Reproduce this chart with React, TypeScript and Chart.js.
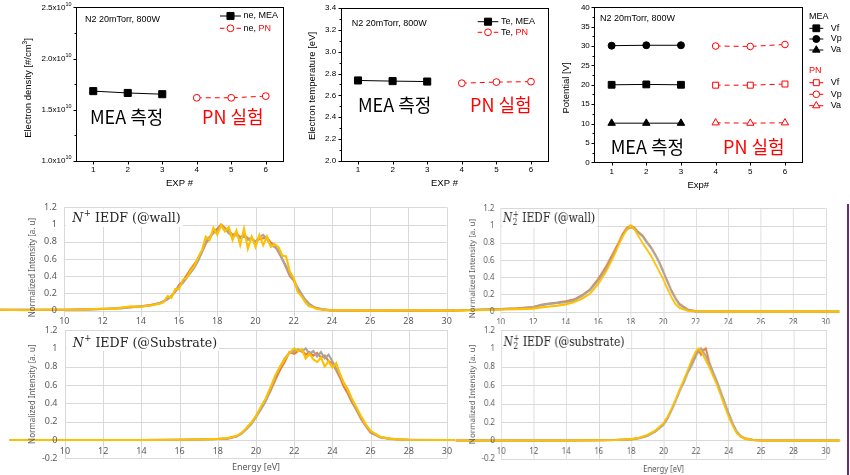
import React, { useEffect, useRef } from 'react';
import { Chart, registerables } from 'chart.js';

Chart.register(...registerables);

// ================= Top row data =================
const expTicks = [1, 2, 3, 4, 5, 6];
const expMEA = [1, 2, 3];
const expPN = [4, 5, 6];

const neMEA = [1.682e10, 1.664e10, 1.652e10];
const nePN = [1.617e10, 1.617e10, 1.633e10];
const neTicks = [1.0e10, 1.5e10, 2.0e10, 2.5e10];
const neMinor = [1.25e10, 1.75e10, 2.25e10];

const teMEA = [2.737, 2.731, 2.727];
const tePN = [2.712, 2.722, 2.726];
const teTicks = [2.0, 2.2, 2.4, 2.6, 2.8, 3.0, 3.2, 3.4];
const teMinor = [2.1, 2.3, 2.5, 2.7, 2.9, 3.1, 3.3];

const vfMEA = [20.0, 20.1, 20.0];
const vpMEA = [30.1, 30.2, 30.2];
const vaMEA = [10.1, 10.1, 10.1];
const vfPN = [19.9, 19.9, 20.2];
const vpPN = [30.0, 29.9, 30.4];
const vaPN = [10.2, 10.1, 10.2];
const potTicks = [0, 5, 10, 15, 20, 25, 30, 35, 40];
const potMinor = [2.5, 7.5, 12.5, 17.5, 22.5, 27.5, 32.5, 37.5];

// ================= Bottom row data (IEDF) =================
const energyTicks = [10, 12, 14, 16, 18, 20, 22, 24, 26, 28, 30];
const intensityTicks = [-0.2, 0, 0.2, 0.4, 0.6, 0.8, 1.0, 1.2];

// N+ IEDF @wall
const nWallE = [6.6, 8, 9, 10, 11, 12, 12.5, 13, 13.5, 14, 14.5, 15, 15.2, 15.4, 15.6, 15.8, 16, 16.2, 16.4, 16.6, 16.8, 17, 17.2, 17.4, 17.6, 17.8, 18, 18.2, 18.4, 18.6, 18.8, 19, 19.2, 19.4, 19.6, 19.8, 20, 20.2, 20.4, 20.6, 20.8, 21, 21.2, 21.4, 21.6, 21.8, 22, 22.2, 22.4, 22.6, 22.8, 23, 23.2, 23.5, 24, 25, 26, 28, 30, 30.4];
const nWallOrange = [0.01, 0.01, 0.01, 0.01, 0.015, 0.02, 0.025, 0.03, 0.04, 0.05, 0.065, 0.09, 0.11, 0.14, 0.17, 0.22, 0.3, 0.34, 0.41, 0.48, 0.54, 0.6, 0.68, 0.78, 0.84, 0.92, 0.95, 1.0, 0.96, 0.93, 0.88, 0.9, 0.85, 0.88, 0.84, 0.83, 0.8, 0.83, 0.84, 0.85, 0.79, 0.76, 0.68, 0.6, 0.5, 0.4, 0.35, 0.25, 0.18, 0.12, 0.08, 0.05, 0.03, 0.015, 0.003, 0, 0, 0, 0, 0];
const nWallGray = [0.01, 0.01, 0.01, 0.01, 0.01, 0.02, 0.025, 0.03, 0.04, 0.05, 0.06, 0.09, 0.11, 0.13, 0.17, 0.22, 0.28, 0.32, 0.38, 0.44, 0.5, 0.58, 0.68, 0.8, 0.86, 0.9, 0.93, 0.98, 0.95, 0.9, 0.86, 0.88, 0.84, 0.86, 0.82, 0.84, 0.8, 0.85, 0.88, 0.83, 0.76, 0.74, 0.7, 0.6, 0.52, 0.42, 0.36, 0.27, 0.2, 0.13, 0.08, 0.05, 0.03, 0.015, 0.003, 0, 0, 0, 0, 0];
const nWallYellow = [0.01, 0.005, 0.01, 0.01, 0.01, 0.025, 0.02, 0.035, 0.05, 0.045, 0.06, 0.08, 0.1, 0.17, 0.15, 0.25, 0.25, 0.36, 0.38, 0.46, 0.52, 0.62, 0.7, 0.86, 0.82, 0.96, 0.88, 0.99, 0.92, 0.97, 0.82, 0.93, 0.76, 0.95, 0.72, 0.86, 0.74, 0.88, 0.76, 0.86, 0.74, 0.77, 0.74, 0.64, 0.63, 0.45, 0.38, 0.22, 0.17, 0.1, 0.05, 0.04, 0.02, 0.01, 0.003, 0.003, 0, 0.003, 0, 0];

// N2+ IEDF @wall
const n2WallE = [7.05, 8, 9, 10, 11, 12, 12.5, 13, 13.5, 14, 14.5, 15, 15.5, 16, 16.5, 17, 17.25, 17.5, 17.75, 18, 18.25, 18.5, 18.75, 19, 19.25, 19.5, 19.75, 20, 20.25, 20.5, 20.75, 21, 21.5, 22, 23, 25, 28, 30, 30.85];
const n2WallOrange = [0.01, 0.02, 0.025, 0.03, 0.04, 0.055, 0.08, 0.095, 0.105, 0.12, 0.14, 0.19, 0.26, 0.38, 0.53, 0.71, 0.8, 0.9, 0.97, 1.0, 0.97, 0.92, 0.88, 0.81, 0.75, 0.67, 0.58, 0.47, 0.36, 0.25, 0.16, 0.09, 0.025, 0.005, 0, 0, 0, 0, 0];
const n2WallGray = [0.01, 0.02, 0.025, 0.03, 0.035, 0.05, 0.075, 0.09, 0.1, 0.11, 0.13, 0.18, 0.25, 0.36, 0.5, 0.68, 0.78, 0.88, 0.95, 0.98, 0.96, 0.91, 0.87, 0.8, 0.74, 0.66, 0.57, 0.46, 0.35, 0.24, 0.15, 0.08, 0.02, 0.004, 0, 0, 0, 0, 0];
const n2WallYellow = [0.01, 0.015, 0.02, 0.025, 0.03, 0.035, 0.05, 0.06, 0.07, 0.085, 0.11, 0.15, 0.21, 0.32, 0.47, 0.66, 0.77, 0.87, 0.95, 1.0, 0.95, 0.87, 0.79, 0.72, 0.65, 0.56, 0.47, 0.38, 0.27, 0.17, 0.09, 0.045, 0.01, 0.002, 0, 0, 0, 0, 0];

// N+ IEDF @Substrate
const nSubE = [7.1, 10, 14, 16, 17, 18, 18.5, 19, 19.25, 19.5, 19.75, 20, 20.25, 20.5, 20.75, 21, 21.25, 21.5, 21.75, 22, 22.2, 22.4, 22.6, 22.8, 23, 23.2, 23.4, 23.6, 23.8, 24, 24.2, 24.4, 24.6, 24.8, 25, 25.25, 25.5, 25.75, 26, 26.5, 27, 27.5, 28, 30, 30.4];
const nSubOrange = [0, 0, 0, 0.002, 0.005, 0.01, 0.015, 0.04, 0.075, 0.12, 0.18, 0.26, 0.34, 0.43, 0.53, 0.65, 0.76, 0.85, 0.96, 0.94, 0.97, 0.98, 0.93, 0.96, 0.92, 0.95, 0.9, 0.92, 0.86, 0.84, 0.76, 0.68, 0.58, 0.51, 0.42, 0.33, 0.23, 0.15, 0.08, 0.03, 0.012, 0.005, 0.002, 0, 0];
const nSubGray = [0, 0, 0, 0.002, 0.005, 0.01, 0.015, 0.04, 0.07, 0.12, 0.17, 0.25, 0.33, 0.42, 0.55, 0.68, 0.79, 0.89, 0.95, 0.97, 0.99, 0.96, 1.0, 0.94, 0.97, 0.91, 0.96, 0.89, 0.93, 0.86, 0.78, 0.7, 0.62, 0.55, 0.44, 0.34, 0.24, 0.16, 0.09, 0.03, 0.015, 0.006, 0.003, 0, 0];
const nSubYellow = [0, 0, 0, 0.002, 0.005, 0.012, 0.02, 0.045, 0.08, 0.13, 0.19, 0.26, 0.36, 0.45, 0.57, 0.7, 0.8, 0.88, 0.95, 1.0, 0.97, 0.99, 0.89, 0.94, 0.88, 0.85, 0.9, 0.8, 0.86, 0.79, 0.84, 0.72, 0.62, 0.55, 0.46, 0.36, 0.26, 0.17, 0.1, 0.035, 0.015, 0.006, 0.002, 0, 0];

// N2+ IEDF @substrate
const n2SubE = [7.2, 10, 14, 16, 17, 18, 18.5, 19, 19.5, 20, 20.25, 20.5, 20.75, 21, 21.25, 21.5, 21.75, 22, 22.15, 22.3, 22.45, 22.6, 22.8, 23, 23.25, 23.5, 23.75, 24, 24.25, 24.5, 24.75, 25, 25.5, 26, 28, 30, 30.85];
const n2SubOrange = [0, 0, 0, 0.002, 0.005, 0.012, 0.027, 0.055, 0.1, 0.18, 0.25, 0.34, 0.44, 0.55, 0.65, 0.76, 0.86, 0.95, 0.98, 0.93, 0.98, 1.0, 0.86, 0.76, 0.65, 0.53, 0.41, 0.29, 0.18, 0.09, 0.045, 0.02, 0.006, 0, 0, 0, 0];
const n2SubGray = [0, 0, 0, 0.002, 0.005, 0.012, 0.025, 0.05, 0.1, 0.17, 0.24, 0.33, 0.43, 0.54, 0.63, 0.74, 0.82, 0.92, 0.97, 1.0, 0.96, 0.92, 0.84, 0.76, 0.66, 0.54, 0.42, 0.3, 0.19, 0.1, 0.05, 0.025, 0.007, 0.001, 0, 0, 0];
const n2SubYellow = [0, 0, 0, 0.002, 0.005, 0.015, 0.03, 0.06, 0.11, 0.19, 0.26, 0.35, 0.45, 0.56, 0.66, 0.77, 0.88, 0.97, 1.0, 0.97, 0.92, 0.87, 0.8, 0.72, 0.62, 0.5, 0.38, 0.26, 0.16, 0.08, 0.04, 0.02, 0.005, 0, 0, 0, 0];

// ================= Styles =================
const SANS = '"Liberation Sans", Arial, sans-serif';
const KR = '"Noto Sans CJK KR", "Liberation Sans", sans-serif';
const SERIF = '"DejaVu Serif", serif';
const UI = '"Noto Sans", "Liberation Sans", sans-serif';
const RED = '#ff0000';
const ORANGE = '#ED7D31';
const GRAY = '#A5A5A5';
const YELLOW = '#FFC000';
const AXIS_TXT = '#595959';

type Part = { t: string; sup?: boolean; color?: string };

function drawRich(ctx: CanvasRenderingContext2D, parts: Part[], x: number, y: number, size: number, family: string, align: string, color: string) {
  let w = 0;
  for (const p of parts) {
    ctx.font = `${p.sup ? size * 0.68 : size}px ${family}`;
    w += ctx.measureText(p.t).width;
  }
  let cx = align === 'right' ? x - w : align === 'center' ? x - w / 2 : x;
  ctx.textAlign = 'left';
  ctx.textBaseline = 'middle';
  for (const p of parts) {
    ctx.font = `${p.sup ? size * 0.68 : size}px ${family}`;
    ctx.fillStyle = p.color || color;
    ctx.fillText(p.t, cx, p.sup ? y - size * 0.38 : y);
    cx += ctx.measureText(p.t).width;
  }
}

function drawMarker(ctx: CanvasRenderingContext2D, style: string, x: number, y: number, r: number, fill: string, stroke: string) {
  ctx.save();
  ctx.beginPath();
  if (style === 'rect') {
    const s = r * Math.SQRT1_2;
    ctx.rect(x - s, y - s, 2 * s, 2 * s);
  } else if (style === 'triangle') {
    let a = 0;
    ctx.moveTo(x + Math.sin(a) * r, y - Math.cos(a) * r);
    a += (2 * Math.PI) / 3;
    ctx.lineTo(x + Math.sin(a) * r, y - Math.cos(a) * r);
    a += (2 * Math.PI) / 3;
    ctx.lineTo(x + Math.sin(a) * r, y - Math.cos(a) * r);
    ctx.closePath();
  } else {
    ctx.arc(x, y, r, 0, Math.PI * 2);
  }
  ctx.setLineDash([]);
  ctx.fillStyle = fill;
  ctx.fill();
  ctx.strokeStyle = stroke;
  ctx.lineWidth = 1;
  ctx.stroke();
  ctx.restore();
}

type SeriesStyle = { color: string; dashed: boolean; marker: string; r: number; fill: string };
const mea = (marker: string, r: number): SeriesStyle => ({ color: '#000', dashed: false, marker, r, fill: '#000' });
const pn = (marker: string, r: number): SeriesStyle => ({ color: RED, dashed: true, marker, r, fill: '#fff' });

type LegendEntry =
  | { kind: 'header'; text: string; color: string; x: number; y: number }
  | { kind: 'row'; x1: number; x2: number; mx: number; tx: number; y: number; st: SeriesStyle; parts: Part[] };

type TopSpec = {
  left: number; width: number; height: number;
  area: { l: number; r: number; t: number; b: number };
  yMin: number; yMax: number; yTicks: number[]; yMinor: number[];
  yLabel: (v: number) => Part[];
  yTitle: Part[]; yTitleX: number; yTitleY: number;
  xTitle: string; xTitleY: number; xTickY: number;
  info: { x: number; y: number };
  legend: LegendEntry[];
  ann: { text: string; color: string; x: number; y: number }[];
  series: { label: string; xs: number[]; ys: number[]; st: SeriesStyle }[];
};

const TOP_SPECS: TopSpec[] = [
  {
    left: 0, width: 290, height: 192,
    area: { l: 76, r: 283, t: 7.3, b: 161 },
    yMin: 1.0e10, yMax: 2.5e10, yTicks: neTicks, yMinor: neMinor,
    yLabel: (v) => [{ t: (v / 1e10).toFixed(1) + 'x10' }, { t: '10', sup: true }],
    yTitle: [{ t: 'Electron density [#/cm' }, { t: '3', sup: true }, { t: ']' }], yTitleX: 28.5, yTitleY: 88,
    xTitle: 'EXP #', xTitleY: 183, xTickY: 170,
    info: { x: 85, y: 20 },
    legend: [
      { kind: 'row', x1: 220, x2: 241, mx: 230.5, tx: 243.5, y: 16, st: mea('rect', 5), parts: [{ t: 'ne, MEA' }] },
      { kind: 'row', x1: 220, x2: 241, mx: 230.5, tx: 243.5, y: 28.3, st: pn('circle', 3.4), parts: [{ t: 'ne, ' }, { t: 'PN', color: RED }] },
    ],
    ann: [
      { text: 'MEA 측정', color: '#000', x: 90, y: 117 },
      { text: 'PN 실험', color: RED, x: 202, y: 117 },
    ],
    series: [
      { label: 'ne, MEA', xs: expMEA, ys: neMEA, st: mea('rect', 5) },
      { label: 'ne, PN', xs: expPN, ys: nePN, st: pn('circle', 3.4) },
    ],
  },
  {
    left: 290, width: 270, height: 192,
    area: { l: 340.7, r: 548.3, t: 8, b: 161 },
    yMin: 2.0, yMax: 3.4, yTicks: teTicks, yMinor: teMinor,
    yLabel: (v) => [{ t: v.toFixed(1) }],
    yTitle: [{ t: 'Electron temperature [eV]' }], yTitleX: 312.5, yTitleY: 86,
    xTitle: 'EXP #', xTitleY: 183.3, xTickY: 170,
    info: { x: 351.7, y: 23.3 },
    legend: [
      { kind: 'row', x1: 477.7, x2: 498.3, mx: 488, tx: 501, y: 21.7, st: mea('rect', 5), parts: [{ t: 'Te, MEA' }] },
      { kind: 'row', x1: 477.7, x2: 498.3, mx: 488, tx: 501, y: 32.3, st: pn('circle', 3.4), parts: [{ t: 'Te, ' }, { t: 'PN', color: RED }] },
    ],
    ann: [
      { text: 'MEA 측정', color: '#000', x: 358, y: 105 },
      { text: 'PN 실험', color: RED, x: 470, y: 105 },
    ],
    series: [
      { label: 'Te, MEA', xs: expMEA, ys: teMEA, st: mea('rect', 5) },
      { label: 'Te, PN', xs: expPN, ys: tePN, st: pn('circle', 3.4) },
    ],
  },
  {
    left: 560, width: 290, height: 192,
    area: { l: 594.3, r: 802.3, t: 7.3, b: 162.3 },
    yMin: 0, yMax: 40, yTicks: potTicks, yMinor: potMinor,
    yLabel: (v) => [{ t: String(v) }],
    yTitle: [{ t: 'Potential [V]' }], yTitleX: 566, yTitleY: 88,
    xTitle: 'Exp#', xTitleY: 185, xTickY: 171.7,
    info: { x: 600, y: 19 },
    legend: [
      { kind: 'header', text: 'MEA', color: '#000', x: 809, y: 16.7 },
      { kind: 'row', x1: 809.3, x2: 823.3, mx: 816.3, tx: 830.7, y: 28.3, st: mea('rect', 4.8), parts: [{ t: 'Vf' }] },
      { kind: 'row', x1: 809.3, x2: 823.3, mx: 816.3, tx: 830.7, y: 39, st: mea('circle', 3.5), parts: [{ t: 'Vp' }] },
      { kind: 'row', x1: 809.3, x2: 823.3, mx: 816.3, tx: 830.7, y: 50, st: mea('triangle', 4.3), parts: [{ t: 'Va' }] },
      { kind: 'header', text: 'PN', color: RED, x: 809, y: 71 },
      { kind: 'row', x1: 809.3, x2: 823.3, mx: 816.3, tx: 830.7, y: 82.7, st: pn('rect', 4.2), parts: [{ t: 'Vf' }] },
      { kind: 'row', x1: 809.3, x2: 823.3, mx: 816.3, tx: 830.7, y: 94.3, st: pn('circle', 3.3), parts: [{ t: 'Vp' }] },
      { kind: 'row', x1: 809.3, x2: 823.3, mx: 816.3, tx: 830.7, y: 105.7, st: pn('triangle', 4.2), parts: [{ t: 'Va' }] },
    ],
    ann: [
      { text: 'MEA 측정', color: '#000', x: 610.7, y: 146.7 },
      { text: 'PN 실험', color: RED, x: 723, y: 146.7 },
    ],
    series: [
      { label: 'MEA Vf', xs: expMEA, ys: vfMEA, st: mea('rect', 4.8) },
      { label: 'MEA Vp', xs: expMEA, ys: vpMEA, st: mea('circle', 3.5) },
      { label: 'MEA Va', xs: expMEA, ys: vaMEA, st: mea('triangle', 4.3) },
      { label: 'PN Vf', xs: expPN, ys: vfPN, st: pn('rect', 4.2) },
      { label: 'PN Vp', xs: expPN, ys: vpPN, st: pn('circle', 3.3) },
      { label: 'PN Va', xs: expPN, ys: vaPN, st: pn('triangle', 4.2) },
    ],
  },
];

function topPlugin(spec: TopSpec) {
  const ox = spec.left;
  return {
    id: 'topDeco',
    afterDraw(chart: any) {
      const ctx: CanvasRenderingContext2D = chart.ctx;
      const { left: L, right: R, top: T, bottom: B } = chart.chartArea;
      const xs = chart.scales.x;
      const ys = chart.scales.y;
      ctx.save();
      ctx.setLineDash([]);
      ctx.strokeStyle = '#000';
      ctx.lineWidth = 1;
      const rl = Math.round(L) + 0.5, rr = Math.round(R) + 0.5, rt = Math.round(T) + 0.5, rb = Math.round(B) + 0.5;
      ctx.strokeRect(rl, rt, rr - rl, rb - rt);
      ctx.beginPath();
      for (const v of spec.yTicks) {
        const y = Math.round(ys.getPixelForValue(v)) + 0.5;
        ctx.moveTo(rl, y); ctx.lineTo(rl - 3, y);
      }
      for (const v of spec.yMinor) {
        const y = Math.round(ys.getPixelForValue(v)) + 0.5;
        ctx.moveTo(rl, y); ctx.lineTo(rl - 2, y);
      }
      for (const v of expTicks) {
        const x = Math.round(xs.getPixelForValue(v)) + 0.5;
        ctx.moveTo(x, rb); ctx.lineTo(x, rb + 3);
      }
      ctx.stroke();
      for (const v of spec.yTicks) {
        drawRich(ctx, spec.yLabel(v), L - 4.5, ys.getPixelForValue(v), 8, SANS, 'right', '#000');
      }
      for (const v of expTicks) {
        drawRich(ctx, [{ t: String(v) }], xs.getPixelForValue(v), spec.xTickY, 8, SANS, 'center', '#000');
      }
      drawRich(ctx, [{ t: spec.xTitle }], (L + R) / 2, spec.xTitleY, 9.5, SANS, 'center', '#000');
      ctx.save();
      ctx.translate(spec.yTitleX - ox, spec.yTitleY);
      ctx.rotate(-Math.PI / 2);
      drawRich(ctx, spec.yTitle, 0, 0, 9.5, SANS, 'center', '#000');
      ctx.restore();
      drawRich(ctx, [{ t: 'N2 20mTorr, 800W' }], spec.info.x - ox, spec.info.y, 9, SANS, 'left', '#000');
      for (const e of spec.legend) {
        if (e.kind === 'header') {
          drawRich(ctx, [{ t: e.text }], e.x - ox, e.y, 9, SANS, 'left', e.color);
        } else {
          const x1 = e.x1 - ox, x2 = e.x2 - ox, mx = e.mx - ox;
          ctx.strokeStyle = e.st.color;
          ctx.lineWidth = 1;
          ctx.beginPath();
          if (e.st.dashed) {
            ctx.moveTo(x1, e.y); ctx.lineTo(x1 + 4.5, e.y);
            ctx.moveTo(x2 - 4.5, e.y); ctx.lineTo(x2, e.y);
          } else {
            ctx.moveTo(x1, e.y); ctx.lineTo(x2, e.y);
          }
          ctx.stroke();
          drawMarker(ctx, e.st.marker, mx, e.y, e.st.r, e.st.fill, e.st.color);
          drawRich(ctx, e.parts, e.tx - ox, e.y, 9, SANS, 'left', '#000');
        }
      }
      for (const a of spec.ann) {
        drawRich(ctx, [{ t: a.text }], a.x - ox, a.y, 18, KR, 'left', a.color);
      }
      ctx.restore();
    },
  };
}

function TopChart({ spec }: { spec: TopSpec }) {
  const ref = useRef<HTMLCanvasElement>(null);
  useEffect(() => {
    const ox = spec.left;
    const chart = new Chart(ref.current as HTMLCanvasElement, {
      type: 'scatter',
      data: {
        datasets: spec.series.map((s) => ({
          label: s.label,
          data: s.xs.map((x, i) => ({ x, y: s.ys[i] })),
          showLine: true,
          borderColor: s.st.color,
          backgroundColor: s.st.fill,
          borderWidth: 1,
          borderDash: s.st.dashed ? [5, 4] : [],
          pointStyle: s.st.marker,
          pointRadius: s.st.r,
          pointBackgroundColor: s.st.fill,
          pointBorderColor: s.st.color,
          pointBorderWidth: 1,
          clip: false,
        })),
      },
      options: {
        animation: false,
        responsive: false,
        events: [],
        layout: {
          padding: {
            left: spec.area.l - ox,
            right: spec.width - (spec.area.r - ox),
            top: spec.area.t,
            bottom: spec.height - spec.area.b,
          },
        },
        plugins: { legend: { display: false }, tooltip: { enabled: false } },
        scales: {
          x: { type: 'linear', display: false, min: 0.5, max: 6.5 },
          y: { type: 'linear', display: false, min: spec.yMin, max: spec.yMax },
        },
      } as any,
      plugins: [topPlugin(spec) as any],
    });
    return () => chart.destroy();
  }, []);
  return (
    <canvas
      ref={ref}
      width={spec.width}
      height={spec.height}
      style={{ position: 'absolute', left: spec.left, top: 0 }}
    />
  );
}

// ================= Bottom panels =================
type BotSpec = {
  left: number; top: number; k: number; width: number; height: number;
  pad: { l: number; r: number; t: number; b: number };
  gridToZero?: number;
  sub: boolean; titleRest: string; titleDx: number; titleBase: number;
  yTitleX: number;
  xTitleY?: number;
  e: number[]; orange: number[]; gray: number[]; yellow: number[];
};

const PANELS: BotSpec[] = [
  {
    left: 0, top: 195, k: 1, width: 470, height: 140,
    pad: { l: 64.3, r: 470 - 446.7, t: 12.3, b: 7.1 }, gridToZero: 6,
    sub: false, titleRest: ' IEDF (@wall)', titleDx: 8, titleBase: 14.4, yTitleX: 33,
    e: nWallE, orange: nWallOrange, gray: nWallGray, yellow: nWallYellow,
  },
  {
    left: 446.2, top: 195, k: 0.85, width: 470, height: 140,
    pad: { l: 64.3, r: 470 - 446.7, t: 13.3, b: 6.1 }, gridToZero: 6,
    sub: true, titleRest: ' IEDF (@wall)', titleDx: 2.7, titleBase: 14.0, yTitleX: 32,
    e: n2WallE, orange: n2WallOrange, gray: n2WallGray, yellow: n2WallYellow,
  },
];
const PANELS_LOW: BotSpec[] = [
  {
    left: 0, top: 320, k: 1, width: 470, height: 155,
    pad: { l: 65, r: 470 - 447, t: 10, b: 16.7 },
    sub: false, titleRest: ' IEDF (@Substrate)', titleDx: 7.7, titleBase: 16.5, yTitleX: 33, xTitleY: 147,
    e: nSubE, orange: nSubOrange, gray: nSubGray, yellow: nSubYellow,
  },
  {
    left: 446.2, top: 320, k: 0.85, width: 470, height: 155,
    pad: { l: 65, r: 470 - 447, t: 10, b: 16.1 },
    sub: true, titleRest: ' IEDF (@substrate)', titleDx: 2.7, titleBase: 16, yTitleX: 32, xTitleY: 149,
    e: n2SubE, orange: n2SubOrange, gray: n2SubGray, yellow: n2SubYellow,
  },
];

function panelTitle(ctx: CanvasRenderingContext2D, x: number, base: number, sub: boolean, rest: string, draw: boolean) {
  const size = 12.6;
  ctx.textAlign = 'left';
  ctx.textBaseline = 'alphabetic';
  ctx.fillStyle = '#262626';
  ctx.font = `italic ${size}px ${SERIF}`;
  if (draw) ctx.fillText('N', x, base);
  let cx = x + ctx.measureText('N').width + 0.5;
  ctx.font = `${size * 0.68}px ${SERIF}`;
  if (draw) ctx.fillText('+', cx, base - size * 0.42);
  let w = ctx.measureText('+').width;
  if (sub) {
    if (draw) ctx.fillText('2', cx, base + size * 0.22);
    w = Math.max(w, ctx.measureText('2').width);
  }
  cx += w;
  ctx.font = `${size}px ${SERIF}`;
  if (draw) ctx.fillText(rest, cx, base);
  return cx + ctx.measureText(rest).width;
}

function bottomPlugin(spec: BotSpec) {
  return {
    id: 'botDeco',
    beforeDatasetsDraw(chart: any) {
      const ctx: CanvasRenderingContext2D = chart.ctx;
      const { left: L, right: R, top: T, bottom: B } = chart.chartArea;
      const xs = chart.scales.x;
      const ys = chart.scales.y;
      const y0 = ys.getPixelForValue(0);
      const gb = spec.gridToZero !== undefined ? y0 + spec.gridToZero : B;
      ctx.save();
      ctx.strokeStyle = '#d9d9d9';
      ctx.lineWidth = 1;
      ctx.beginPath();
      for (const v of energyTicks) {
        const x = Math.round(xs.getPixelForValue(v)) + 0.5;
        ctx.moveTo(x, T); ctx.lineTo(x, gb);
      }
      for (const v of intensityTicks) {
        const y = Math.round(ys.getPixelForValue(v)) + 0.5;
        if (y > gb + 1) continue;
        ctx.moveTo(L, y); ctx.lineTo(R, y);
      }
      ctx.stroke();
      const end = panelTitle(ctx, L + spec.titleDx, T + spec.titleBase, spec.sub, spec.titleRest, false);
      ctx.fillStyle = '#fff';
      ctx.fillRect(L + 1.5, T + 1.5, end + 2 - (L + 1.5), ys.getPixelForValue(1.0) + 2.5 - (T + 1.5));
      ctx.restore();
    },
    afterDraw(chart: any) {
      const ctx: CanvasRenderingContext2D = chart.ctx;
      const { left: L, right: R, top: T, bottom: B } = chart.chartArea;
      const xs = chart.scales.x;
      const ys = chart.scales.y;
      const y0 = ys.getPixelForValue(0);
      ctx.save();
      for (const v of intensityTicks) {
        const y = ys.getPixelForValue(v);
        if (spec.gridToZero !== undefined && v < 0) continue;
        const txt = String(Math.round(v * 10) / 10);
        drawRich(ctx, [{ t: txt }], L - 7.5, y, 9, UI, 'right', AXIS_TXT);
      }
      for (const v of energyTicks) {
        drawRich(ctx, [{ t: String(v) }], xs.getPixelForValue(v), y0 + 11, 9, UI, 'center', AXIS_TXT);
      }
      ctx.save();
      ctx.translate(spec.yTitleX, (T + B) / 2);
      ctx.rotate(-Math.PI / 2);
      drawRich(ctx, [{ t: 'Normalized Intensity [a. u]' }], 0, 0, 8, UI, 'center', AXIS_TXT);
      ctx.restore();
      if (spec.xTitleY !== undefined) {
        drawRich(ctx, [{ t: 'Energy [eV]' }], (L + R) / 2, spec.xTitleY, 9, UI, 'center', AXIS_TXT);
      }
      panelTitle(ctx, L + spec.titleDx, T + spec.titleBase, spec.sub, spec.titleRest, true);
      ctx.restore();
    },
  };
}

function BottomChart({ spec }: { spec: BotSpec }) {
  const ref = useRef<HTMLCanvasElement>(null);
  useEffect(() => {
    const mk = (label: string, ys: number[], color: string) => ({
      label,
      data: spec.e.map((x, i) => ({ x, y: ys[i] })),
      showLine: true,
      borderColor: color,
      backgroundColor: color,
      borderWidth: 2.1,
      pointRadius: 0,
      tension: 0,
      clip: false,
    });
    // Chart.js paints the first dataset last (on top): yellow on top, then gray, then orange
    const chart = new Chart(ref.current as HTMLCanvasElement, {
      type: 'scatter',
      data: {
        datasets: [mk('Run 3', spec.yellow, YELLOW), mk('Run 2', spec.gray, GRAY), mk('Run 1', spec.orange, ORANGE)],
      },
      options: {
        animation: false,
        responsive: false,
        events: [],
        layout: { padding: { left: spec.pad.l, right: spec.pad.r, top: spec.pad.t, bottom: spec.pad.b } },
        plugins: { legend: { display: false }, tooltip: { enabled: false } },
        scales: {
          x: {
            type: 'linear', display: false, bounds: 'data',
            afterDataLimits: (s: any) => { s.min = 10; s.max = 30; },
          },
          y: { type: 'linear', display: false, min: -0.2, max: 1.2 },
        },
      } as any,
      plugins: [bottomPlugin(spec) as any],
    });
    return () => chart.destroy();
  }, []);
  return (
    <div
      style={{
        position: 'absolute', left: spec.left, top: spec.top, width: spec.width, height: spec.height,
        transform: `scaleX(${spec.k})`, transformOrigin: '0 0',
      }}
    >
      <canvas ref={ref} width={spec.width} height={spec.height} style={{ display: 'block' }} />
    </div>
  );
}

export default function App() {
  return (
    <div style={{ position: 'fixed', left: 0, top: 0, width: 850, height: 475, background: '#fff', overflow: 'hidden' }}>
      {TOP_SPECS.map((s, i) => <TopChart key={'t' + i} spec={s} />)}
      {PANELS.map((s, i) => <BottomChart key={'u' + i} spec={s} />)}
      <div style={{ position: 'absolute', left: 0, top: 324, width: 846, height: 151, background: '#fff' }} />
      {PANELS_LOW.map((s, i) => <BottomChart key={'l' + i} spec={s} />)}
      <div style={{ position: 'absolute', left: 847, top: 204, width: 2, height: 271, background: '#6e2a73' }} />
    </div>
  );
}
